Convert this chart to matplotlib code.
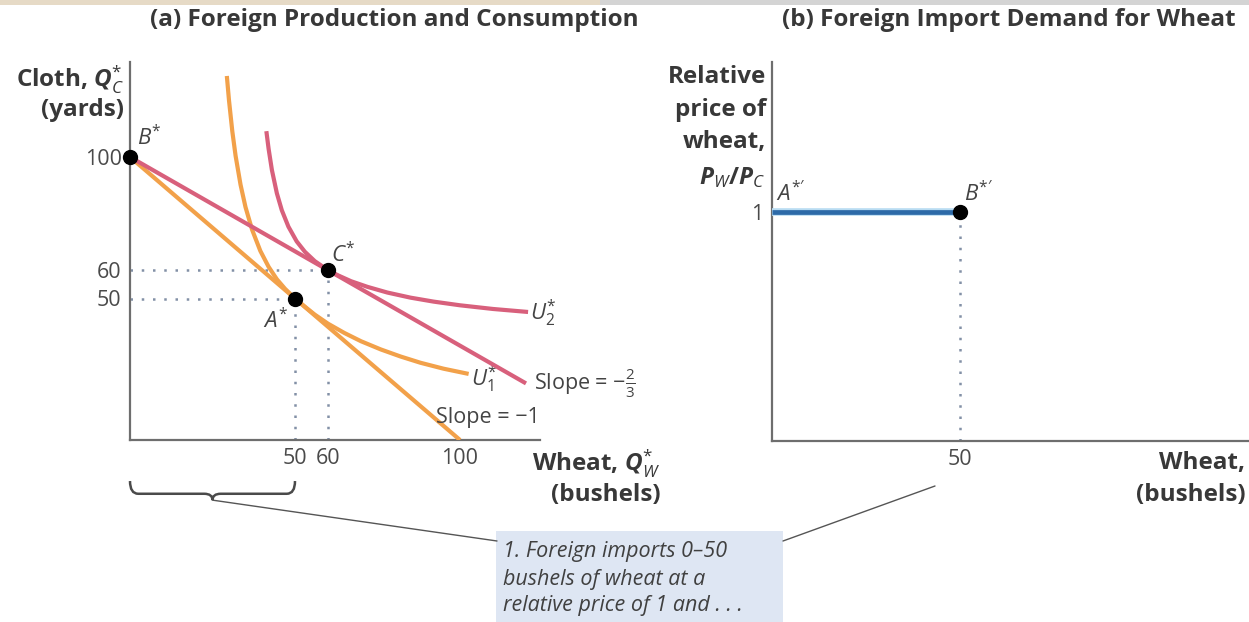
#!/usr/bin/env python3
"""Foreign production/consumption and import demand for wheat (two panels)."""

import matplotlib

matplotlib.use("Agg")
import matplotlib.patheffects as pe
import matplotlib.pyplot as plt
from matplotlib.patches import ConnectionPatch, PathPatch, Rectangle
from matplotlib.path import Path

W, H = 1249, 622

# ---- panel (a): production / consumption (cloth vs wheat) ----
B_STAR = (0, 100)
A_STAR = (50, 50)
C_STAR = (60, 60)
PPF_X = [0, 100]            # slope = -1
PPF_Y = [100, 0]
TRADE_X = [0, 120]          # slope = -2/3
TRADE_Y = [100, 20]
U1_X = [29.4, 30.0, 31.0, 32.0, 33.5, 35.0, 37.0, 39.5, 42.0, 44.5, 47.0, 50.0,
        53.0, 56.0, 60.0, 65.0, 70.0, 76.0, 82.0, 88.0, 95.0, 102.0]
U1_Y = [127.9, 120.0, 109.1, 100.4, 90.2, 82.3, 74.3, 66.8, 61.2, 56.8, 53.4, 50.0,
        47.1, 44.3, 41.1, 37.8, 34.9, 32.0, 29.5, 27.3, 25.2, 23.5]
U2_X = [41.4, 42.0, 43.0, 44.5, 46.0, 48.0, 50.5, 53.0, 56.0, 60.0,
        63.0, 67.0, 72.0, 78.0, 85.0, 92.0, 100.0, 110.0, 120.0]
U2_Y = [108.4, 102.9, 95.4, 87.2, 81.2, 75.4, 70.2, 66.5, 63.2, 60.0,
        58.2, 56.1, 54.1, 52.1, 50.3, 48.9, 47.6, 46.3, 45.3]
A_XTICKS = [50, 60, 100]
A_YTICKS = [50, 60, 100]
IMPORT_RANGE = (0, 50)

# ---- panel (b): import demand ----
IMPORT_X = [0, 50]
IMPORT_Y = [1, 1]
B_XTICKS = [50]
B_YTICKS = [1]

ORANGE = "#f2a14a"
PINK = "#d8607c"
BLUE = "#2d6aa8"
DOTS = "#8290a6"
AXIS = "#6e6e6e"
TEXT = "#383838"

LABEL_SIZE = 17.5
TICK_SIZE = 15.5

plt.rcParams["font.family"] = ["Open Sans", "DejaVu Sans"]
plt.rcParams["mathtext.fontset"] = "custom"
plt.rcParams["mathtext.rm"] = "Open Sans"
plt.rcParams["mathtext.it"] = "Open Sans:italic"
plt.rcParams["mathtext.bf"] = "Open Sans:bold"
plt.rcParams["mathtext.bfit"] = "Open Sans:bold:italic"


def fx(px):
    return px / W


def fy(py):
    return 1 - py / H


def px_axes(fig, left, top, right, bottom):
    return fig.add_axes([fx(left), fy(bottom), (right - left) / W, (bottom - top) / H])


def style_axes(ax, xticks, yticks):
    for s in ("top", "right"):
        ax.spines[s].set_visible(False)
    for s in ("left", "bottom"):
        ax.spines[s].set_color(AXIS)
        ax.spines[s].set_linewidth(1.6)
    ax.set_xticks(xticks)
    ax.set_yticks(yticks)
    ax.tick_params(length=0, labelsize=TICK_SIZE, labelcolor="#4a4a4a")
    ax.tick_params(axis="x", pad=6)
    ax.tick_params(axis="y", pad=6)
    ax.set_facecolor("none")


def dotted(ax, xs, ys):
    ax.plot(xs, ys, color=DOTS, lw=1.8, linestyle=(0, (1, 3.5)), zorder=1)


def point_label(ax, xy, text, dx, dy, ha="left", va="bottom", size=16):
    ax.annotate(text, xy, xytext=(dx, dy), textcoords="offset points",
                ha=ha, va=va, fontsize=size, color="#444444", style="italic",
                annotation_clip=False)


def draw_brace(ax, x0, x1, y, depth):
    xm = (x0 + x1) / 2
    r = (x1 - x0) * 0.05
    verts = [
        (x0, y), (x0, y - depth), (x0 + r, y - depth),
        (xm - r, y - depth), (xm, y - depth), (xm, y - 1.5 * depth),
        (xm, y - depth), (xm + r, y - depth),
        (x1 - r, y - depth), (x1, y - depth), (x1, y),
    ]
    codes = [
        Path.MOVETO, Path.CURVE3, Path.CURVE3,
        Path.LINETO, Path.CURVE3, Path.CURVE3,
        Path.CURVE3, Path.CURVE3,
        Path.LINETO, Path.CURVE3, Path.CURVE3,
    ]
    ax.add_patch(PathPatch(Path(verts, codes), fill=False, edgecolor="#4a4a4a",
                           lw=1.8, clip_on=False))
    return xm, y - 1.5 * depth


def plot_panel_a(fig):
    ax = px_axes(fig, 130, 62, 540, 440)
    ax.set_xlim(0, 410 / 3.3)
    ax.set_ylim(0, 378 / 2.83)
    style_axes(ax, A_XTICKS, A_YTICKS)

    dotted(ax, [0, C_STAR[0]], [C_STAR[1], C_STAR[1]])
    dotted(ax, [C_STAR[0], C_STAR[0]], [0, C_STAR[1]])
    dotted(ax, [0, A_STAR[0]], [A_STAR[1], A_STAR[1]])
    dotted(ax, [A_STAR[0], A_STAR[0]], [0, A_STAR[1]])

    ax.plot(PPF_X, PPF_Y, color=ORANGE, lw=3, solid_capstyle="butt", zorder=3)
    ax.plot(U1_X, U1_Y, color=ORANGE, lw=3, solid_joinstyle="round", zorder=3)
    ax.plot(TRADE_X, TRADE_Y, color=PINK, lw=3, solid_capstyle="butt", zorder=4)
    ax.plot(U2_X, U2_Y, color=PINK, lw=3, solid_joinstyle="round", zorder=4)

    for p in (B_STAR, A_STAR, C_STAR):
        ax.plot(*p, "o", color="black", ms=10, zorder=6, clip_on=False)

    point_label(ax, B_STAR, r"$B^{*}$", 5, 5)
    point_label(ax, C_STAR, r"$C^{*}$", 2, 2)
    point_label(ax, A_STAR, r"$A^{*}$", -5, -7, ha="right", va="top")
    point_label(ax, (U2_X[-1], U2_Y[-1]), r"$U_2^{*}$", 3, -1, va="center")
    point_label(ax, (U1_X[-1], U1_Y[-1]), r"$U_1^{*}$", 3, -4, va="center")
    ax.annotate(r"Slope = $-\frac{2}{3}$", (TRADE_X[-1], TRADE_Y[-1]), xytext=(6, 0),
                textcoords="offset points", ha="left", va="center",
                fontsize=TICK_SIZE, color="#444444", annotation_clip=False)
    ax.annotate("Slope = \u22121", (PPF_X[-1], PPF_Y[-1]), xytext=(-17, 16),
                textcoords="offset points", ha="left", va="center",
                fontsize=TICK_SIZE, color="#444444", annotation_clip=False)

    ax.text(-0.015, 0.952, r"Cloth, $\mathbfit{Q}_{C}^{*}$", transform=ax.transAxes,
            ha="right", va="center", fontsize=LABEL_SIZE, fontweight="bold", color=TEXT)
    ax.text(-0.015, 0.873, "(yards)", transform=ax.transAxes,
            ha="right", va="center", fontsize=LABEL_SIZE, fontweight="bold", color=TEXT)
    ax.text(1.293, -0.063, r"Wheat, $\mathbfit{Q}_{W}^{*}$", transform=ax.transAxes,
            ha="right", va="center", fontsize=LABEL_SIZE, fontweight="bold", color=TEXT)
    ax.text(1.293, -0.146, "(bushels)", transform=ax.transAxes,
            ha="right", va="center", fontsize=LABEL_SIZE, fontweight="bold", color=TEXT)

    fig.text(fx(394), fy(20), "(a) Foreign Production and Consumption",
             ha="center", va="center", fontsize=17.5, fontweight="bold", color=TEXT)

    tip = draw_brace(ax, IMPORT_RANGE[0], IMPORT_RANGE[1], -14.5, 4.5)
    return ax, tip


def plot_panel_b(fig):
    ax = px_axes(fig, 772, 62, 1249, 441)
    ax.set_xlim(0, 477 / 3.76)
    ax.set_ylim(0, 379 / 229)
    style_axes(ax, B_XTICKS, B_YTICKS)

    dotted(ax, [IMPORT_X[-1], IMPORT_X[-1]], [0, IMPORT_Y[-1]])
    ax.plot(IMPORT_X, IMPORT_Y, color=BLUE, lw=3.4, solid_capstyle="butt", zorder=3,
            path_effects=[pe.Stroke(linewidth=5.5, foreground="#b9dcf2"), pe.Normal()],
            clip_on=False)
    ax.plot(IMPORT_X[-1], IMPORT_Y[-1], "o", color="black", ms=10, zorder=6)

    point_label(ax, (IMPORT_X[0], IMPORT_Y[0]), r"$A^{*\prime}$", 3, 4)
    point_label(ax, (IMPORT_X[-1], IMPORT_Y[-1]), r"$B^{*\prime}$", 3, 4)

    ylab = ["Relative", "price of", "wheat,", r"$\mathbfit{P}_{W}\mathbf{/}\mathbfit{P}_{C}$"]
    for txt, yy in zip(ylab, [0.96, 0.873, 0.789, 0.694]):
        ax.text(-0.013, yy, txt, transform=ax.transAxes, ha="right", va="center",
                fontsize=LABEL_SIZE, fontweight="bold", color=TEXT)
    ax.text(0.992, -0.058, "Wheat,", transform=ax.transAxes, ha="right", va="center",
            fontsize=LABEL_SIZE, fontweight="bold", color=TEXT)
    ax.text(0.992, -0.142, "(bushels)", transform=ax.transAxes, ha="right", va="center",
            fontsize=LABEL_SIZE, fontweight="bold", color=TEXT)

    fig.text(fx(1009), fy(20), "(b) Foreign Import Demand for Wheat",
             ha="center", va="center", fontsize=17.5, fontweight="bold", color=TEXT)
    return ax


def plot_callout(fig, ax_a, tip):
    fig.patches.append(Rectangle((fx(496), 0), fx(783) - fx(496), fy(531),
                                 transform=fig.transFigure, facecolor="#dee6f3",
                                 edgecolor="none", zorder=0))
    fig.add_artist(ConnectionPatch(xyA=tip, coordsA=ax_a.transData,
                                   xyB=(fx(497), fy(541)), coordsB=fig.transFigure,
                                   color="#555555", lw=1.0))
    fig.add_artist(ConnectionPatch(xyA=(fx(783), fy(541)), coordsA=fig.transFigure,
                                   xyB=(fx(935), fy(486)), coordsB=fig.transFigure,
                                   color="#555555", lw=1.0))
    lines = ["1. Foreign imports 0\u201350", "bushels of wheat at a",
             "relative price of 1 and . . ."]
    for txt, py in zip(lines, [552, 579, 606]):
        fig.text(fx(503), fy(py), txt, ha="left", va="center", fontsize=15.5,
                 style="italic", color="#404040")


def main():
    fig = plt.figure(figsize=(W / 100, H / 100), dpi=100)
    fig.patches.append(Rectangle((0, fy(5)), 1, 5 / H, transform=fig.transFigure,
                                 facecolor="#d4d4d4", edgecolor="none"))
    fig.patches.append(Rectangle((0, fy(5)), fx(600), 5 / H, transform=fig.transFigure,
                                 facecolor="#e6dac6", edgecolor="none"))
    ax_a, tip = plot_panel_a(fig)
    plot_panel_b(fig)
    plot_callout(fig, ax_a, tip)
    fig.savefig("out.png", dpi=100)


if __name__ == "__main__":
    main()
